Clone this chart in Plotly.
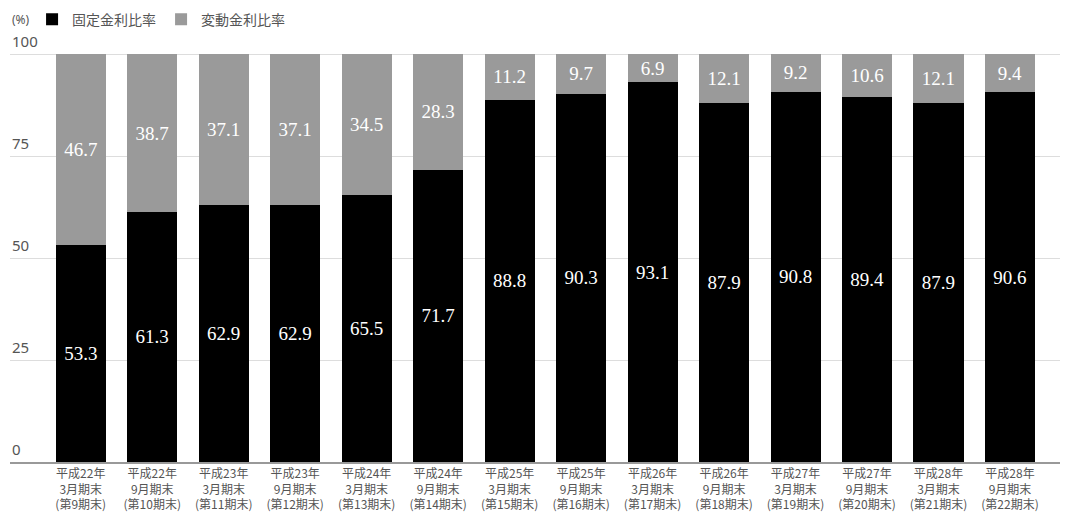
import plotly.graph_objects as go

# Period labels (fiscal period ends)
periods = [
    "平成22年<br>3月期末<br>(第9期末)",
    "平成22年<br>9月期末<br>(第10期末)",
    "平成23年<br>3月期末<br>(第11期末)",
    "平成23年<br>9月期末<br>(第12期末)",
    "平成24年<br>3月期末<br>(第13期末)",
    "平成24年<br>9月期末<br>(第14期末)",
    "平成25年<br>3月期末<br>(第15期末)",
    "平成25年<br>9月期末<br>(第16期末)",
    "平成26年<br>3月期末<br>(第17期末)",
    "平成26年<br>9月期末<br>(第18期末)",
    "平成27年<br>3月期末<br>(第19期末)",
    "平成27年<br>9月期末<br>(第20期末)",
    "平成28年<br>3月期末<br>(第21期末)",
    "平成28年<br>9月期末<br>(第22期末)",
]

# Fixed-rate ratio (%)
fixed_ratio = [53.3, 61.3, 62.9, 62.9, 65.5, 71.7, 88.8, 90.3, 93.1, 87.9, 90.8, 89.4, 87.9, 90.6]
# Floating-rate ratio (%)
floating_ratio = [46.7, 38.7, 37.1, 37.1, 34.5, 28.3, 11.2, 9.7, 6.9, 12.1, 9.2, 10.6, 12.1, 9.4]

y_ticks = [0, 25, 50, 75, 100]

x_idx = list(range(len(periods)))
label_font = dict(family="Liberation Serif, Times New Roman, serif", size=19, color="white")

fig = go.Figure()
fig.add_trace(go.Bar(
    x=x_idx, y=fixed_ratio, name="固定金利比率",
    marker=dict(color="#000000", line=dict(width=0)),
    text=[f"{v:.1f}" for v in fixed_ratio],
    textposition="inside", insidetextanchor="middle",
    textfont=label_font, width=0.7,
))
fig.add_trace(go.Bar(
    x=x_idx, y=floating_ratio, name="変動金利比率",
    marker=dict(color="#9a9a9a", line=dict(width=0)),
    text=[f"{v:.1f}" for v in floating_ratio],
    textposition="inside", insidetextanchor="middle",
    textfont=label_font, width=0.7,
))

cjk = "Noto Sans CJK JP, sans-serif"

# y-axis value labels sit just above each gridline at the left edge
tick_labels = [
    dict(text=str(t), xref="paper", yref="y", x=0.0, y=t,
         xanchor="left", yanchor="bottom", showarrow=False, yshift=1,
         font=dict(size=15, color="#555555", family="Noto Sans, sans-serif"))
    for t in y_ticks
]

fig.update_layout(
    barmode="stack",
    width=1069, height=519,
    margin=dict(l=10, r=9, t=50, b=57, autoexpand=False),
    paper_bgcolor="white", plot_bgcolor="white",
    font=dict(family=cjk, color="#555555"),
    uniformtext=dict(minsize=14, mode="show"),
    legend=dict(
        orientation="h", xref="container", yref="container",
        x=0.03, xanchor="left", y=0.962, yanchor="middle",
        font=dict(size=14, color="#555555", family=cjk),
        itemwidth=30, traceorder="normal",
    ),
    xaxis=dict(
        range=[-0.99, 13.7], automargin=False,
        tickmode="array", tickvals=x_idx, ticktext=periods,
        tickfont=dict(size=12, color="#555555", family=cjk),
        showgrid=False, zeroline=False,
        showline=True, linecolor="#999999", linewidth=1.5,
        ticks="",
    ),
    yaxis=dict(
        range=[0, 101], automargin=False,
        tickmode="array", tickvals=y_ticks, showticklabels=False,
        showgrid=True, gridcolor="#dddddd", gridwidth=1,
        zeroline=False, showline=False, ticks="",
    ),
    annotations=[
        dict(text="(%)", xref="paper", yref="paper", x=0.0, y=1.073,
             xanchor="left", yanchor="middle", showarrow=False,
             font=dict(size=12, color="#555555", family="Noto Sans, sans-serif")),
    ] + tick_labels,
)

fig.write_html("out.html")
